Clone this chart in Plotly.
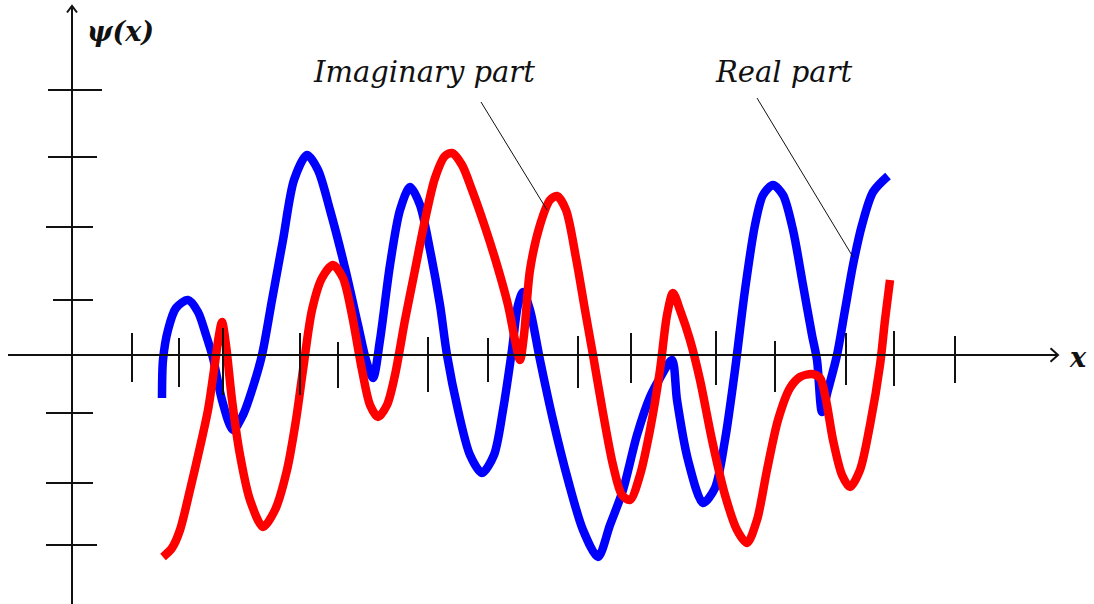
import plotly.graph_objects as go

# Real part of psi(x) (blue curve)
real_x = [9.0, 9.1, 9.6, 10.4, 11.6, 12.6, 13.4, 14.1, 15.0, 16.1, 17.1, 18.0, 19.0, 20.0,
          21.1, 22.2, 23.5, 24.6, 25.8, 27.3, 28.6, 29.4, 30.1, 30.8, 31.8, 32.8, 33.8,
          34.8, 35.8, 36.8, 37.5, 38.6, 39.8, 41.0, 42.2, 43.1, 44.0, 44.6, 45.1, 45.8,
          46.8, 48.1, 49.6, 51.1, 52.6, 53.8, 55.1, 56.5, 57.8, 58.8, 60.0, 60.5, 61.6,
          63.1, 64.3, 65.3, 66.3, 67.3, 68.3, 69.1, 70.1, 71.1, 72.1, 73.1, 74.0, 74.5,
          75.0, 75.6, 76.5, 77.3, 78.1, 79.0, 80.1, 81.6]
real_y = [-4.3, -0.5, 2.5, 4.7, 5.5, 4.3, 2.0, -0.3, -4.5, -7.5, -6.0, -3.5, 0.0, 5.5,
          11.5, 17.5, 20.0, 18.5, 14.5, 8.7, 3.0, -0.5, -2.3, 1.5, 9.0, 14.5, 16.8,
          15.0, 10.5, 5.0, 0.0, -5.5, -10.0, -11.8, -10.0, -5.5, 0.5, 5.0, 6.3, 4.5,
          -0.5, -6.5, -12.5, -17.5, -20.2, -17.0, -13.5, -8.0, -4.2, -2.3, -0.5, -4.5, -10.5,
          -14.8, -13.3, -8.5, -1.5, 6.5, 13.0, 16.0, 17.0, 16.0, 12.5, 7.0, 2.0, -0.5,
          -5.7, -3.5, 0.0, 4.5, 9.0, 13.0, 16.3, 17.9]

# Imaginary part of psi(x) (red curve)
imag_x = [9.1, 10.0, 10.8, 11.8, 12.8, 13.6, 14.2, 14.7, 15.0, 15.4, 16.0, 16.8, 17.8, 19.1,
          20.3, 21.5, 22.4, 23.1, 24.0, 25.0, 26.1, 27.1, 28.0, 29.0, 29.8, 30.6, 31.5,
          32.3, 33.3, 34.3, 35.3, 36.3, 37.3, 38.0, 39.0, 40.0, 41.3, 42.5, 43.6, 44.3,
          44.8, 45.2, 45.8, 46.8, 47.8, 48.5, 49.4, 50.4, 51.3, 52.1, 53.1, 54.1, 55.0,
          55.8, 56.8, 57.8, 58.8, 59.5, 60.1, 60.8, 61.8, 62.8, 64.0, 65.3, 66.5, 67.5,
          68.5, 69.5, 70.6, 71.8, 72.8, 74.0, 74.8, 75.4, 76.1, 77.0, 77.8, 78.8, 79.8,
          80.8, 81.3, 81.8]
imag_y = [-20.2, -19.3, -17.5, -13.5, -9.2, -5.5, -1.5, 2.0, 3.3, 1.0, -4.5, -10.0, -14.5, -17.2,
          -15.5, -11.5, -6.5, -1.5, 4.5, 7.7, 9.0, 7.7, 4.0, -1.5, -5.0, -6.2, -5.0,
          -2.0, 3.5, 8.5, 13.5, 17.7, 19.9, 20.2, 19.0, 16.5, 12.8, 9.0, 5.0, 1.5,
          -0.5, 2.0, 8.5, 13.0, 15.5, 15.9, 14.5, 9.7, 4.5, 0.0, -5.8, -11.0, -14.0,
          -14.5, -12.0, -7.5, -1.5, 4.0, 6.2, 4.5, 1.5, -2.5, -8.5, -14.0, -17.5, -18.8,
          -16.5, -11.5, -6.5, -3.3, -2.2, -1.9, -2.3, -4.5, -8.5, -12.0, -13.2, -11.5, -7.0,
          -1.0, 3.5, 7.5]

# Hand-placed tick marks on the x axis: position, upper and lower end
x_tick_pos = [6.0, 10.7, 15.1, 22.8, 26.6, 35.6, 41.6, 50.6, 55.9, 64.4, 70.3, 77.4, 82.2, 88.3]
x_tick_top = [2.2, 1.7, 2.7, 2.2, 1.3, 1.8, 1.7, 1.9, 2.2, 2.4, 1.4, 2.2, 2.4, 1.9]
x_tick_bottom = [-2.7, -3.2, -4.0, -4.0, -3.3, -3.7, -2.7, -3.3, -2.8, -3.0, -3.7, -3.0, -3.1, -2.8]

# Tick marks on the psi axis: position, left and right end
y_tick_pos = [26.5, 19.8, 12.8, 5.5, -5.8, -12.8, -19.0]
y_tick_left = [-2.4, -2.4, -2.6, -1.9, -2.6, -2.6, -2.6]
y_tick_right = [3.0, 2.5, 2.1, 2.1, 2.1, 2.1, 2.5]

# Axis extents
x_axis_start, x_axis_end = -6.4, 98.6
y_axis_start, y_axis_end = -26.0, 34.9

fig = go.Figure()

fig.add_trace(go.Scatter(x=real_x, y=real_y, mode="lines",
                         line=dict(color="#0000ff", width=8.5, shape="spline", smoothing=0.8),
                         hoverinfo="skip"))
fig.add_trace(go.Scatter(x=imag_x, y=imag_y, mode="lines",
                         line=dict(color="#ff0000", width=8.5, shape="spline", smoothing=0.8),
                         hoverinfo="skip"))

# Axes with open arrowheads
axis_x = [x_axis_start, x_axis_end, None, x_axis_end - 0.75, x_axis_end, x_axis_end - 0.75,
          None, 0, 0, None, -0.5, 0, 0.5]
axis_y = [0, 0, None, 0.68, 0, -0.68,
          None, y_axis_start, y_axis_end, None, y_axis_end - 0.65, y_axis_end, y_axis_end - 0.65]
fig.add_trace(go.Scatter(x=axis_x, y=axis_y, mode="lines",
                         line=dict(color="#111111", width=2), hoverinfo="skip"))

# Tick marks
tx, ty = [], []
for p, t, b in zip(x_tick_pos, x_tick_top, x_tick_bottom):
    tx += [p, p, None]
    ty += [b, t, None]
for p, l, r in zip(y_tick_pos, y_tick_left, y_tick_right):
    tx += [l, r, None]
    ty += [p, p, None]
fig.add_trace(go.Scatter(x=tx, y=ty, mode="lines",
                         line=dict(color="#111111", width=2), hoverinfo="skip"))

# Leader lines from the labels to the curves
fig.add_trace(go.Scatter(x=[40.9, 47.5, None, 68.5, 78.1], y=[25.3, 14.5, None, 25.7, 9.8],
                         mode="lines", line=dict(color="#111111", width=1), hoverinfo="skip"))

label_font = dict(family="DejaVu Serif", size=29, color="#111111")
fig.add_annotation(x=4.8, y=32.4, text="<b><i>ψ(x)</i></b>", showarrow=False,
                   font=dict(family="DejaVu Serif", size=27, color="#111111"))
fig.add_annotation(x=100.6, y=-0.2, text="<b><i>x</i></b>", showarrow=False,
                   font=dict(family="DejaVu Serif", size=27, color="#111111"))
fig.add_annotation(x=35.2, y=28.3, text="<i>Imaginary part</i>", showarrow=False, font=label_font)
fig.add_annotation(x=71.1, y=28.3, text="<i>Real part</i>", showarrow=False, font=label_font)

fig.update_layout(
    width=1094, height=604,
    margin=dict(l=0, r=0, t=0, b=0),
    paper_bgcolor="white", plot_bgcolor="white",
    showlegend=False,
    xaxis=dict(range=[-7.2, 102.2], visible=False, fixedrange=True),
    yaxis=dict(range=[-24.9, 35.5], visible=False, fixedrange=True),
)

fig.write_html("out.html")
